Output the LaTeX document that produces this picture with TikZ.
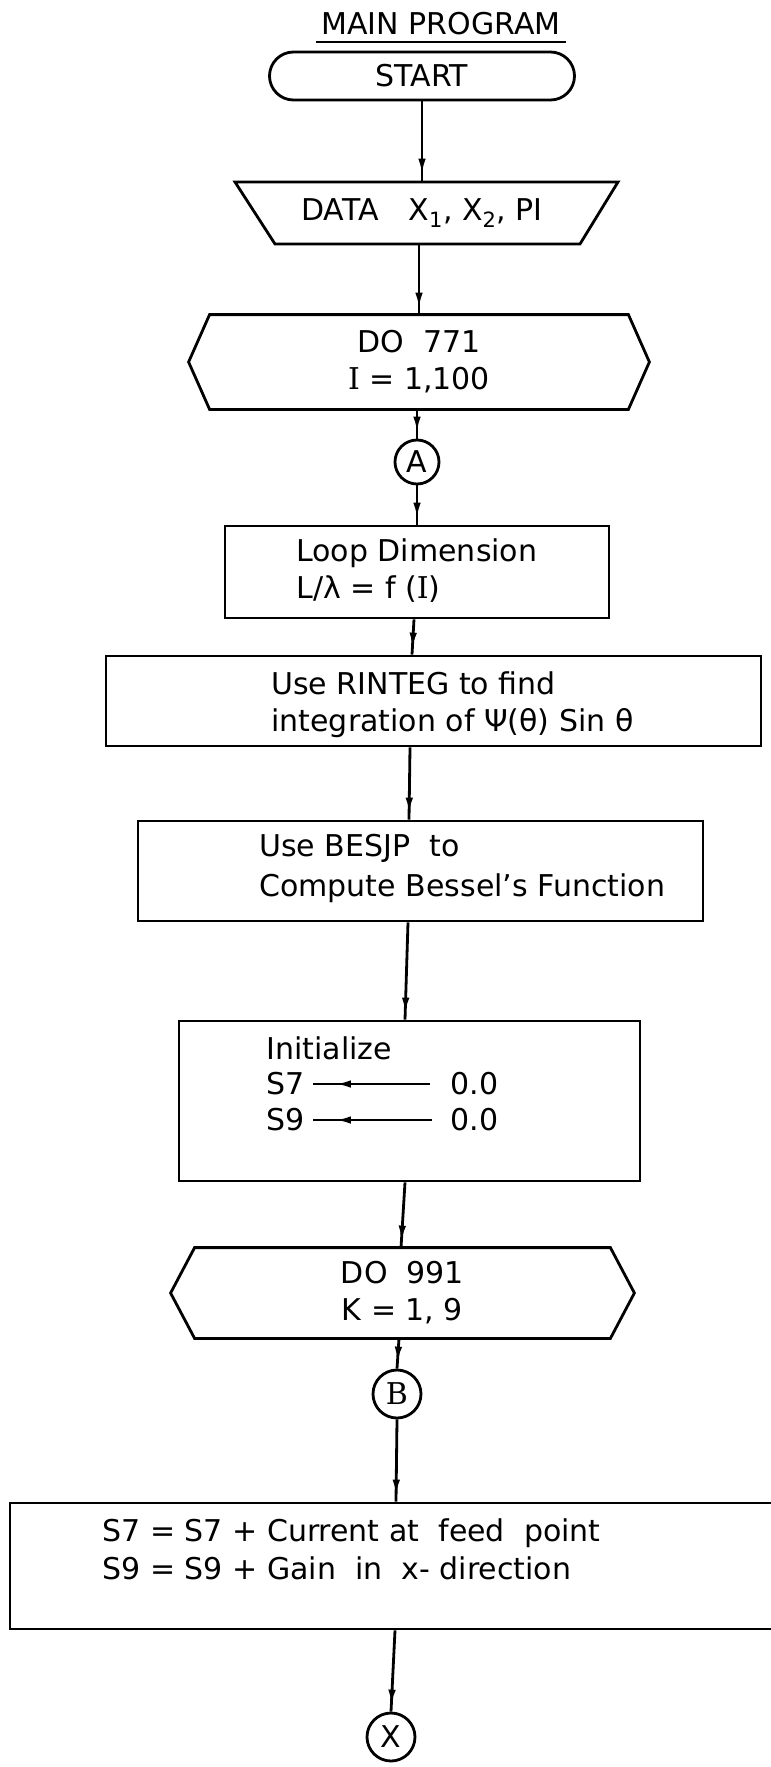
\documentclass[tikz,border=0pt]{standalone}
\usepackage{fontspec}
\setmainfont{DejaVu Sans}
\newfontfamily\serifface{DejaVu Serif}
\usetikzlibrary{arrows.meta,decorations.markings,calc}
\newcommand\chartfont{\fontsize{30}{37}\selectfont}
\newcommand\serI{{\serifface I}}

\begin{document}
\begin{tikzpicture}[x=1pt,y=-1pt,line width=2.8pt,
  every node/.style={font=\chartfont},
  shapebox/.style={draw, rectangle, inner sep=0pt},
  lbl/.style={inner sep=0pt, align=left, anchor=west},
  hexa/.style={inner sep=0pt, align=center},
  joint/.style={draw, circle, inner sep=0pt, minimum size=46pt},
  flow/.style={postaction={decorate},
    decoration={markings, mark=at position -6pt with {\arrow{Latex[length=16pt,width=7.5pt]}}}},
  assign/.style={postaction={decorate},
    decoration={markings, mark=at position -22pt with {\arrow{Latex[length=16pt,width=7.5pt]}}}},
]
\path[use as bounding box] (0,0) rectangle (771,1767);
\fill[white] (0,0) rectangle (771,1767);
\clip (0,0) rectangle (771,1767);

% heading
\node[inner sep=0pt] (title) at (441,24) {MAIN PROGRAM};
\draw[line width=2.4pt] ($(title.south west)+(-4,5)$) -- ($(title.south east)+(4,5)$);

% terminal
\node[draw, rounded corners=24pt, minimum width=305pt, minimum height=48pt, inner sep=0pt] (start) at (422,76) {START};

% input data
\node[inner sep=0pt, minimum height=62pt] (data) at (422,213) {DATA\quad X\textsubscript{1}, X\textsubscript{2}, PI};
\draw ($(data.center)+(-187,-31)$) -- ($(data.center)+(196,-31)$) -- ($(data.center)+(158,31)$) -- ($(data.center)+(-147,31)$) -- cycle;

% outer loop
\node[hexa, minimum width=458pt, minimum height=92pt] (loopdo) at (419,362) {DO\ \ 771\\\serI\ = 1,100};
\draw (loopdo.west) -- ($(loopdo.north west)+(21,0)$) -- ($(loopdo.north east)+(-21,0)$) -- (loopdo.east)
  -- ($(loopdo.south east)+(-21,0)$) -- ($(loopdo.south west)+(21,0)$) -- cycle;

\node[joint, minimum size=44pt] (ca) at (417,462) {A};

% loop dimension
\node[shapebox, minimum width=384pt, minimum height=92pt] (dim) at (417,572) {};
\node[lbl, font=\fontsize{30}{37}\selectfont] (dimtxt) at (295,571) {Loop Dimension\\L/λ = f (\serI)};

% integration
\node[shapebox, minimum width=655pt, minimum height=90pt] (integ) at (433.5,701) {};
\node[lbl] (integtxt) at (270,705) {Use RINTEG to find\\integration of Ψ(θ) Sin θ};

% Bessel functions
\node[shapebox, minimum width=565pt, minimum height=100pt] (bess) at (420.5,871) {};
\node[lbl, font=\fontsize{30}{40}\selectfont] (besstxt) at (258,868) {Use BESJP\ \ to\\Compute Bessel’s Function};

% initialisation
\node[shapebox, minimum width=461pt, minimum height=160pt] (init) at (409.5,1101) {};
\node[lbl] (inittxt) at (265,1048) {Initialize};
\node[lbl] (s7) at (265,1084) {S7};
\node[lbl] (z7) at (449,1084) {0.0};
\node[lbl] (s9) at (265,1120) {S9};
\node[lbl] (z9) at (449,1120) {0.0};
\draw[assign] ($(z7.west)+(-19,0)$) -- ($(s7.east)+(7,0)$);
\draw[assign] ($(z9.west)+(-17,0)$) -- ($(s9.east)+(7,0)$);

% inner loop
\node[hexa, minimum width=461pt, minimum height=88pt] (kdo) at (402.5,1293) {DO\ \ 991\\K = 1, 9};
\draw (kdo.west) -- ($(kdo.north west)+(24,0)$) -- ($(kdo.north east)+(-24,0)$) -- (kdo.east)
  -- ($(kdo.south east)+(-24,0)$) -- ($(kdo.south west)+(24,0)$) -- cycle;

\node[joint, minimum size=48pt] (cb) at (397,1394) {\serifface B};

% accumulation
\node[shapebox, minimum width=790pt, minimum height=126pt] (accum) at (405,1566) {};
\node[lbl, font=\fontsize{30}{38}\selectfont] (accumtxt) at (101,1549) {S7 = S7 + Current at\ \ feed\ \ point\\S9 = S9 + Gain\ \ in\ \ x- direction};

\node[joint, minimum size=48pt] (cx) at (391,1737) {X};

% flow lines
\draw[flow] (start.south -| data.north) -- (data.north);
\draw[flow] (data.south -| loopdo.north) -- (loopdo.north);
\draw[flow] (loopdo.south -| ca.north) -- (ca.north);
\draw[flow] (ca.south) -- (dim.north);
\draw[flow] ($(dim.south)+(-3,0)$) -- ($(integ.north)+(-21.5,0)$);
\draw[flow] ($(integ.south)+(-23.5,0)$) -- ($(bess.north)+(-11.5,0)$);
\draw[flow] ($(bess.south)+(-12.5,0)$) -- ($(init.north)+(-4.5,0)$);
\draw[flow] ($(init.south)+(-4.5,0)$) -- ($(kdo.north)+(-1.5,0)$);
\draw[flow] ($(kdo.south)+(-3.5,0)$) -- (cb.north);
\draw[flow] (cb.south) -- ($(accum.north)+(-9,0)$);
\draw[flow] ($(accum.south)+(-10,0)$) -- (cx.north);
\end{tikzpicture}
\end{document}
